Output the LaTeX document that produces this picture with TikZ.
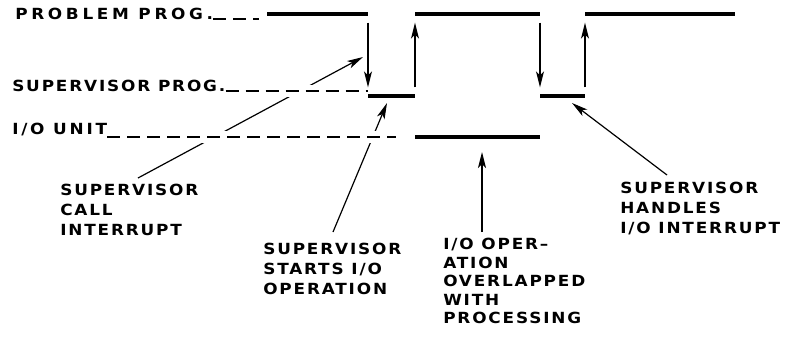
\documentclass[tikz,border=0pt]{standalone}
\usepackage{fontspec}
\usepackage{tikz}
\usetikzlibrary{arrows.meta, calc}
\newfontfamily\etiq{DejaVu Sans}[FakeStretch=1.1, LetterSpace=12]
\tikzset{
  lbl/.style={inner sep=0pt, align=left, font=\etiq\bfseries\fontsize{11.5}{15}\selectfont},
  barra/.style={line width=2.6pt},
  guia/.style={dash pattern=on 9.75pt off 5.25pt, line width=1pt,
               preaction={draw=white, solid, line width=9pt}},
  seta/.style={-{Stealth[length=12pt, width=6pt, inset=3pt]}, line width=1.1pt},
  salto/.style={seta, shorten <=6.5pt, shorten >=6.5pt},
  lead/.style={seta, line width=0.9pt}
}
\begin{document}
\begin{tikzpicture}[x=0.75pt, y=-0.75pt]
  \useasboundingbox (0,0) rectangle (793,337);
  \node[lbl, anchor=base west] (prob) at (15,19) {\addfontfeature{LetterSpace=24}PROBLEM PROG.};
  \node[lbl, anchor=base west] (sup) at (12,91) {SUPERVISOR PROG.};
  \node[lbl, anchor=base west] (io) at (12,134) {\addfontfeature{LetterSpace=18}I/O UNIT};
  \node[lbl, anchor=north west] (call) at (60,184) {SUPERVISOR\\CALL\\INTERRUPT};
  \node[lbl, anchor=north west] (start) at (263,243) {SUPERVISOR\\STARTS I/O\\OPERATION};
  \node[lbl, anchor=north west, font=\etiq\bfseries\fontsize{11.5}{13.9}\selectfont] (ovl) at (443,238)
    {I/O OPER\textendash\\ATION\\OVERLAPPED\\WITH\\PROCESSING};
  \node[lbl, anchor=north west] (hand) at (620,182) {SUPERVISOR\\HANDLES\\I/O INTERRUPT};

  \coordinate (callTip) at (363,57);
  \coordinate (startTip) at (387,103);
  \coordinate (ovlTip) at (482,152);
  \coordinate (handTip) at (572,103);
  \draw[lead] ($(call.north west)+(78,-6)$) -- (callTip);
  \draw[lead] ($(start.north west)+(70,-11)$) -- (startTip);

  \foreach \n/\a/\b/\y in {p1/267/368/14, p2/415/540/14, p3/585/735/14,
                           s1/368/415/96, s2/540/585/96, i1/415/540/137}
    {\coordinate (\n w) at (\a,\y); \coordinate (\n e) at (\b,\y);}

  \draw[guia, shorten >=6pt] (prob.base east) -- (prob.base east -| p1w);
  \draw[guia] (sup.base east) -- (sup.base east -| s1w);
  \draw[guia, shorten >=14pt] (io.east |- i1w) -- (i1w);

  \foreach \n in {p1,p2,p3,s1,s2,i1}
    \draw[barra] (\n w) -- (\n e);
  \draw[salto] (p1e) -- (s1w);
  \draw[salto] (s1e) -- (p2w);
  \draw[salto] (p2e) -- (s2w);
  \draw[salto] (s2e) -- (p3w);

  \draw[seta] ($(ovl.north west)+(39,-6)$) -- (ovlTip);
  \draw[lead] ($(hand.north west)+(47,-7)$) -- (handTip);
\end{tikzpicture}
\end{document}
